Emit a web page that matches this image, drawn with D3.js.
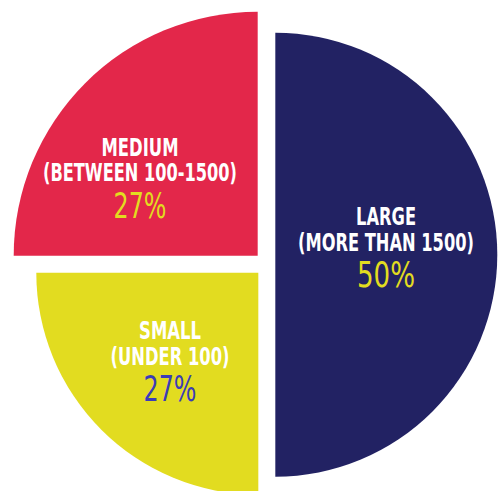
<!DOCTYPE html>
<html>
<head>
<meta charset="utf-8">
<script src="https://cdn.jsdelivr.net/npm/d3@7"></script>
<style>
  html, body { margin: 0; padding: 0; background: #ffffff; }
  svg { display: block; }
</style>
</head>
<body>
<svg id="chart" width="498" height="491"></svg>
<script>
// Company size split (share of respondents, %)
const categories = ["LARGE", "MEDIUM", "SMALL"];
const subtitles = ["(MORE THAN 1500)", "(BETWEEN 100-1500)", "(UNDER 100)"];
const shares = [50, 27, 27];

const fills = { LARGE: "#222263", MEDIUM: "#e3274a", SMALL: "#e2dc20" };
const pctFills = { LARGE: "#e2dc20", MEDIUM: "#e2dc20", SMALL: "#3b3cb8" };

// Exploded-slice layout: each wedge has its own origin and radius,
// label block anchored at the first baseline, with fitted text widths.
const layout = {
  LARGE:  { cx: 275.3, cy: 254.7, r: 222, lx: 386, ly: 225,   w: [60, 176, 58] },
  MEDIUM: { cx: 257.7, cy: 255.7, r: 244, lx: 140, ly: 155.7, w: [77, 194, 53] },
  SMALL:  { cx: 258.3, cy: 272.7, r: 222, lx: 170, ly: 339,   w: [62, 119, 53] }
};

const data = categories.map((c, i) => ({ name: c, sub: subtitles[i], share: shares[i] }));

// Shares are percentages of the whole circle: the largest group takes its
// 50% from 12 o'clock clockwise, the others split the remaining half.
const angle = d3.scaleLinear().domain([0, 100]).range([0, 2 * Math.PI]);
const large = data[0];
const arcs = [{ data: large, startAngle: 0, endAngle: angle(large.share) }];
const rest = d3.pie()
  .sort(null)
  .value(d => d.share)
  .startAngle(angle(large.share))
  .endAngle(2 * Math.PI)([data[2], data[1]]);
arcs.push(...rest);

const svg = d3.select("#chart");

const slices = svg.selectAll("g.slice")
  .data(arcs)
  .join("g")
  .attr("class", "slice");

slices.append("path")
  .attr("transform", d => `translate(${layout[d.data.name].cx},${layout[d.data.name].cy})`)
  .attr("d", d => d3.arc().innerRadius(0).outerRadius(layout[d.data.name].r)(d))
  .attr("fill", d => fills[d.data.name]);

const fontStack = "'DejaVu Sans Condensed', 'Liberation Sans Narrow', 'Roboto', sans-serif";

const labels = slices.append("g")
  .attr("transform", d => `translate(${layout[d.data.name].lx},${layout[d.data.name].ly})`)
  .attr("text-anchor", "middle")
  .style("font-family", fontStack);

// Each line is squeezed horizontally to its fitted width, condensed-type style.
function line(sel, y, size, weight, fill, widthIdx, textFn) {
  sel.append("g")
    .attr("transform", `translate(0,${y})`)
    .append("text")
    .attr("fill", fill)
    .attr("font-size", size)
    .attr("font-weight", weight)
    .text(textFn)
    .each(function (d) {
      const natural = this.getComputedTextLength();
      const target = layout[d.data.name].w[widthIdx];
      d3.select(this).attr("transform", `scale(${target / natural},1)`);
    });
}

line(labels, 0, 24, 700, "#ffffff", 0, d => d.data.name);
line(labels, 25.5, 24, 700, "#ffffff", 1, d => d.data.sub);
line(labels, 62, 36, 400, d => pctFills[d.data.name], 2, d => d.data.share + "%");
</script>
</body>
</html>
